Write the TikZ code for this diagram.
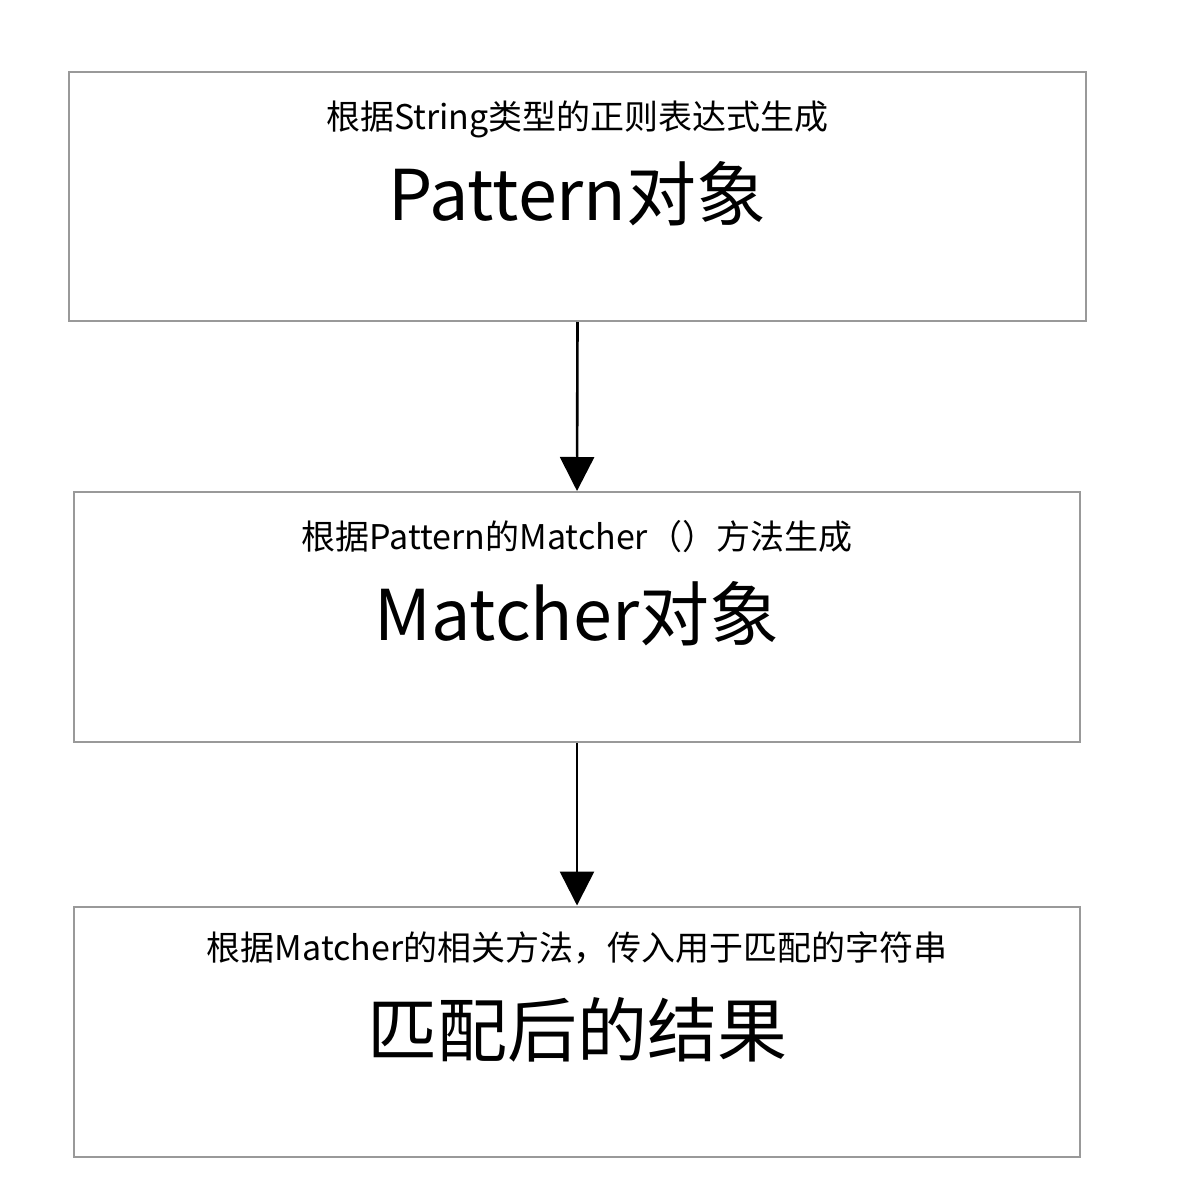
\documentclass[tikz,border=0pt]{standalone}
\usepackage{fontspec}
\setmainfont{Noto Sans CJK SC}
\usetikzlibrary{arrows.meta,positioning}

\begin{document}
\begin{tikzpicture}[x=0.5pt,y=-0.5pt,
        box/.style={draw=black!40,line width=1pt,minimum width=503pt,
                    minimum height=125pt,inner sep=0pt},
        hint/.style={font=\fontsize{17}{19}\selectfont},
        title/.style={font=\fontsize{35}{40}\selectfont},
        flow/.style={-{Triangle[length=17pt,width=17pt]},line width=1.3pt}]
	\useasboundingbox (0,0) rectangle (1195,1204);

	% the three steps
	\node[box,minimum width=508.5pt,minimum height=124.5pt] (pattern) at (577.5,196.5) {};
	\node[box] (matcher) at (577,617) {};
	\node[box] (result) at (577,1031.5) {};

	\node[hint] (patternhint) at ([yshift=-24pt]pattern.north) {根据String类型的正则表达式生成};
	\node[title] (patterntitle) at ([yshift=-61.5pt]pattern.north) {Pattern对象};
	\node[hint] (matcherhint) at ([yshift=-23pt]matcher.north) {根据Pattern的Matcher（）方法生成};
	\node[title] (matchertitle) at ([yshift=-61.5pt]matcher.north) {Matcher对象};
	\node[hint] (resulthint) at ([yshift=-21pt]result.north) {根据Matcher的相关方法，传入用于匹配的字符串};
	\node[title] (resulttitle) at ([yshift=-62pt]result.north) {匹配后的结果};

	\draw[flow] (pattern.south) -- (matcher.north);
	\draw[flow] (matcher.south) -- (result.north);
\end{tikzpicture}
\end{document}
